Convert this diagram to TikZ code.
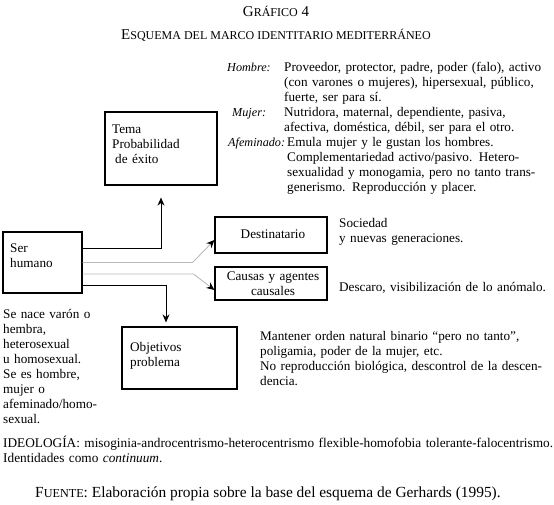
\documentclass[tikz,border=0pt]{standalone}
\usepackage{fontspec}
\setmainfont{Liberation Serif}
\usetikzlibrary{arrows.meta}
\newcommand{\fsc}[3][12]{#2{\fontsize{#1}{12}\selectfont #3}}

\begin{document}
\begin{tikzpicture}[x=1pt,y=-1pt,
  box/.style={draw,line width=1.2pt,inner sep=0pt},
  txt/.style={inner sep=0pt,anchor=base west,align=left,text width=#1,
              font=\fontsize{13.2}{15}\selectfont},
  txt/.default=300pt,
  lbl/.style={inner sep=0pt,anchor=base west,font=\fontsize{12.2}{15}\selectfont\itshape},
  ttl/.style={inner sep=0pt,anchor=base,font=\fontsize{15}{15}\selectfont},
  arr/.style={-{Stealth[length=8pt,width=7pt]},line width=0.9pt},
  garr/.style={-{Stealth[length=8pt,width=7pt,color=black]},line width=0.9pt,gray!55}]

  \useasboundingbox (0,0) rectangle (554,505);

  % titles
  \node[ttl] (titulo) at (276,17) {\fsc{G}{RÁFICO} 4};
  \node[ttl] (subtit) at (276,40) {\fsc{E}{SQUEMA DEL MARCO IDENTITARIO MEDITERRÁNEO}};

  % boxes
  \node[box,minimum width=112pt,minimum height=73pt] (tema)   at (161,148.5) {};
  \node[box,minimum width=79pt, minimum height=61pt] (ser)    at (42.5,262.5) {};
  \node[box,minimum width=112pt,minimum height=36pt] (dest)   at (271,235)   {};
  \node[box,minimum width=112pt,minimum height=33pt] (causas) at (271,283.5) {};
  \node[box,minimum width=115pt,minimum height=62pt] (obj)    at (179.5,358) {};

  % box texts
  \node[txt=100pt] (tematxt) at (112,134) {Tema\\Probabilidad\\\hspace*{3pt}de éxito};
  \node[txt=70pt]  (sertxt)  at (10,252)  {Ser\\humano};
  \node[txt=100pt] (objtxt)  at (130,351) {Objetivos\\problema};
  \node[txt=110pt,anchor=base,align=center] (desttxt) at (273,238) {Destinatario};
  \node[txt=110pt,anchor=base,align=center] (causastxt) at (273,280)
    {Causas y agentes\\causales};

  % connectors
  \draw[arr,shorten >=12pt] ([yshift=14.5pt]ser.east) -| (tema.south);
  \draw[garr] (ser.east) -- ++(110,0) -- ([yshift=-5pt]dest.west);
  \draw[garr] ([yshift=-11.5pt]ser.east) -- ++(111,0) -- ([yshift=-6.5pt]causas.west);
  \draw[arr,shorten >=4pt] ([yshift=-22.5pt]ser.east) -| ([xshift=-13.5pt]obj.north);

  % descriptions
  \node[lbl] (hombre) at (227,72)  {Hombre:};
  \node[lbl] (mujer)  at (232,117) {Mujer:};
  \node[lbl] (afem)   at (228,147) {Afeminado:};
  \node[txt=270pt] (hombretxt) at (284,72)
    {Proveedor, protector, padre, poder (falo), activo\\(con varones o mujeres), hipersexual, público,\\fuerte, ser para sí.};
  \node[txt=270pt] (mujertxt) at (284,117)
    {Nutridora, maternal, dependiente, pasiva,\\afectiva, doméstica, débil, ser para el otro.};
  \node[txt=270pt] (afemtxt) at (287,147)
    {Emula mujer y le gustan los hombres.\\Complementariedad activo/pasivo. Hetero-\\sexualidad y monogamia, pero no tanto trans-\\generismo. Reproducción y placer.};
  \node[txt=215pt] (desttxt2) at (339,228) {Sociedad\\y nuevas generaciones.};
  \node[txt=215pt] (causastxt2) at (339,291) {Descaro, visibilización de lo anómalo.};
  \node[txt=294pt] (objtxt2) at (260,340)
    {Mantener orden natural binario “pero no tanto”,\\poligamia, poder de la mujer, etc.\\No reproducción biológica, descontrol de la descen-\\dencia.};
  \node[txt=115pt] (sertxt2) at (3,318)
    {Se nace varón o\\hembra,\\heterosexual\\u homosexual.\\Se es hombre,\\mujer o\\afeminado/homo-\\sexual.};

  % bottom
  \node[txt=551pt,font=\fontsize{13.3}{15}\selectfont] (ideol) at (3,447)
    {IDEOLOGÍA: misoginia-androcentrismo-heterocentrismo flexible-homofobia tolerante-falocentrismo.\\Identidades como {\itshape continuum}.};
  \node[lbl,font=\fontsize{15.4}{15}\selectfont] (fuente) at (35,497)
    {\fsc[12.2]{F}{UENTE}: Elaboración propia sobre la base del esquema de Gerhards (1995).};

\end{tikzpicture}
\end{document}
